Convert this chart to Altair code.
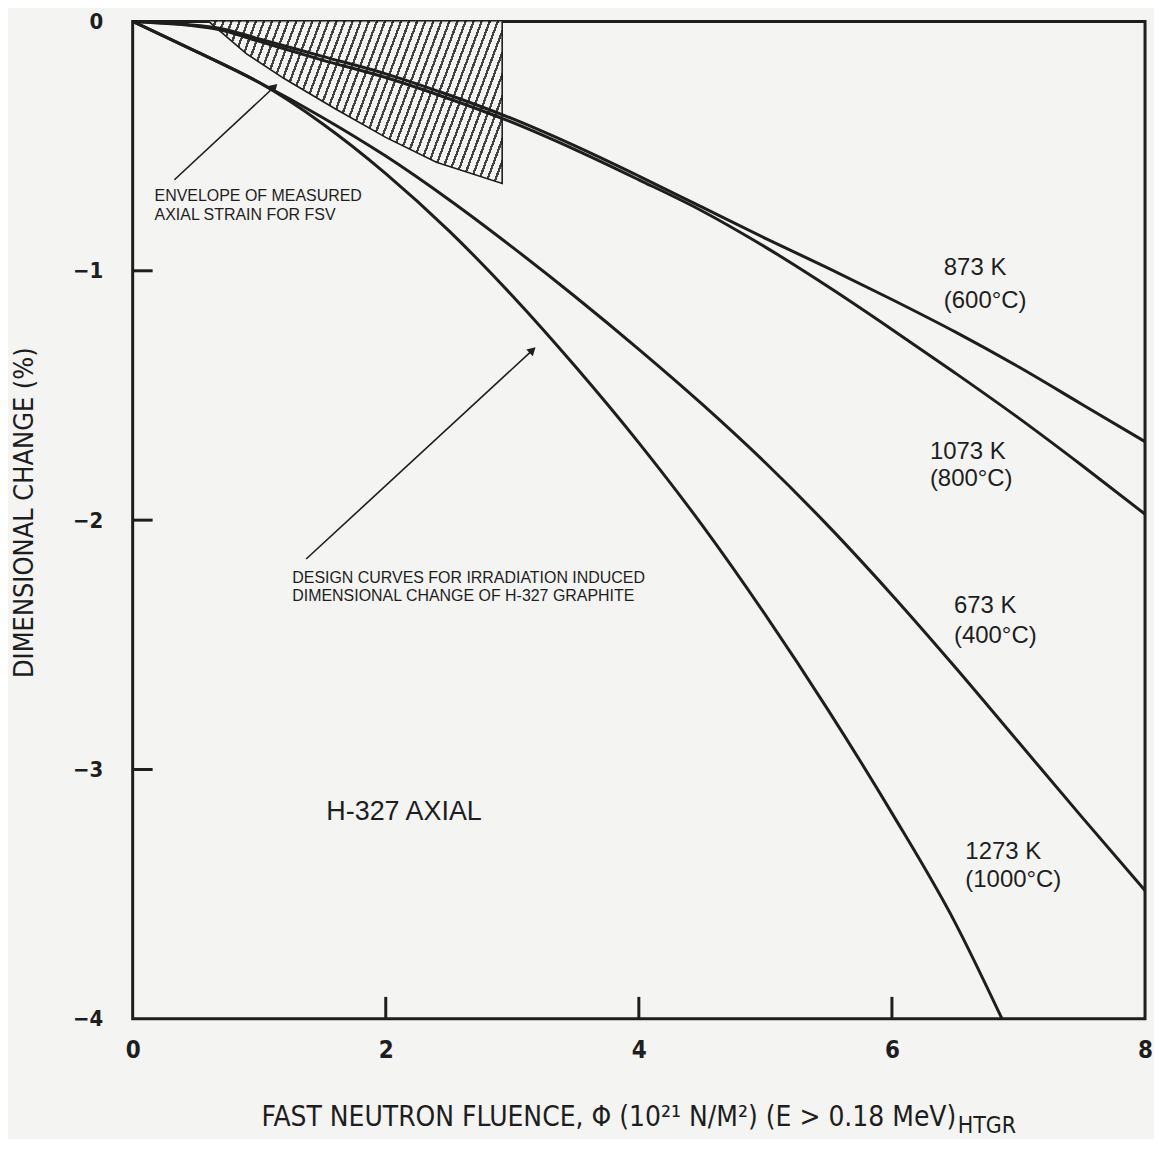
import altair as alt
import pandas as pd

# ---------------- data ----------------
x_upper = [0, 0.66, 1.0, 1.5, 2.0, 2.5, 3.0, 3.5, 4.0, 4.5, 5.0, 5.5, 6.0, 6.5, 7.0, 7.5, 8.0]
dc_873 = [0, -0.025, -0.07, -0.14, -0.21, -0.295, -0.39, -0.50, -0.62, -0.745, -0.87, -0.99, -1.115, -1.245, -1.385, -1.535, -1.685]
dc_1073 = [0, -0.03, -0.08, -0.155, -0.225, -0.31, -0.405, -0.515, -0.635, -0.76, -0.905, -1.065, -1.235, -1.41, -1.59, -1.78, -1.976]

x_673 = [0, 0.5, 1.0, 1.5, 2.0, 2.5, 3.0, 3.5, 4.0, 4.5, 5.0, 5.5, 6.0, 6.5, 7.0, 7.5, 8.0]
dc_673 = [0, -0.12, -0.245, -0.385, -0.54, -0.715, -0.905, -1.105, -1.315, -1.535, -1.77, -2.025, -2.30, -2.59, -2.89, -3.19, -3.485]

x_1273 = [0, 0.5, 1.0, 1.5, 2.0, 2.5, 3.0, 3.5, 4.0, 4.5, 5.0, 5.5, 6.0, 6.5, 6.87]
dc_1273 = [0, -0.12, -0.245, -0.41, -0.61, -0.84, -1.10, -1.385, -1.69, -2.02, -2.38, -2.765, -3.175, -3.615, -4.0]

# envelope of measured axial strain for FSV
env_x = [0.6, 0.9, 1.2, 1.6, 2.0, 2.4, 2.92]
env_low = [0, -0.13, -0.23, -0.35, -0.465, -0.565, -0.65]
env_top = [0, 0, 0, 0, 0, 0, 0]

# curve labels
lab_text = ["873 K", "(600°C)", "1073 K", "(800°C)", "673 K", "(400°C)", "1273 K", "(1000°C)"]
lab_x = [6.41, 6.41, 6.30, 6.30, 6.49, 6.49, 6.58, 6.58]
lab_y = [-0.99, -1.12, -1.725, -1.836, -2.343, -2.463, -3.329, -3.445]

# annotations
ann_text = ["ENVELOPE OF MEASURED", "AXIAL STRAIN FOR FSV",
            "DESIGN CURVES FOR IRRADIATION INDUCED", "DIMENSIONAL CHANGE OF H-327 GRAPHITE"]
ann_x = [0.173, 0.173, 1.261, 1.261]
ann_y = [-0.699, -0.778, -2.232, -2.303]

arrow_id = ["a1", "a1", "a2", "a2"]
arrow_x = [0.33, 1.12, 1.371, 3.16]
arrow_y = [-0.635, -0.262, -2.156, -1.318]
head_x = [1.12, 3.16]
head_y = [-0.262, -1.318]
head_angle = [47, 47]

y_ticks = [0, -1, -2, -3, -4]
x_ticks = [0, 2, 4, 6, 8]
inner_y_ticks = [-1, -2, -3]
inner_x_ticks = [2, 4, 6]

# ---------------- tables ----------------
rows = []
for name, xs_, ys_ in [("873 K", x_upper, dc_873), ("1073 K", x_upper, dc_1073),
                       ("673 K", x_673, dc_673), ("1273 K", x_1273, dc_1273)]:
    for i, (a, b) in enumerate(zip(xs_, ys_)):
        rows.append({"series": name, "i": i, "x": a, "y": b})
curves = pd.DataFrame(rows)

env = pd.DataFrame({"x": env_x, "low": env_low, "top": env_top})
env_edge = pd.DataFrame({"x": env_x + [env_x[-1]], "y": env_low + [0], "i": list(range(len(env_x) + 1))})
labels = pd.DataFrame({"x": lab_x, "y": lab_y, "t": lab_text})
ann = pd.DataFrame({"x": ann_x, "y": ann_y, "t": ann_text})
arrows = pd.DataFrame({"id": arrow_id, "x": arrow_x, "y": arrow_y})
heads = pd.DataFrame({"x": head_x, "y": head_y, "a": head_angle})
ytk = pd.DataFrame({"v": inner_y_ticks})
xtk = pd.DataFrame({"v": inner_x_ticks})
title_sub = pd.DataFrame({"x": [6.75], "y": [-4.428], "t": ["HTGR"]})
h327 = pd.DataFrame({"x": [1.53], "y": [-3.17], "t": ["H-327 AXIAL"]})

# ---------------- styling ----------------
BG = "#f4f4f2"
INK = "#1e1e1e"
NARROW = "'Liberation Sans Narrow', 'DejaVu Sans Condensed', sans-serif"
SANS = "'Liberation Sans', Arial, sans-serif"
W, H = 1015, 1000

xs = alt.Scale(domain=[0, 8], nice=False, zero=False)
ys = alt.Scale(domain=[-4, 0], nice=False, zero=False)

X = alt.X("x:Q", scale=xs, axis=alt.Axis(
    values=x_ticks, format="d", labelFlush=False,
    title="FAST NEUTRON FLUENCE, Φ (10²¹ N/M²) (E > 0.18 MeV)",
    titleX=477, titleY=99, titleBaseline="middle", titleAlign="center",
    titleFont=NARROW, titleFontSize=28, titleFontWeight="normal", titleColor=INK,
    labelFont=NARROW, labelFontSize=24, labelFontWeight="bold", labelColor=INK,
    labelPadding=20, ticks=False, domain=False, grid=False))
Y = alt.Y("y:Q", scale=ys, axis=alt.Axis(
    values=y_ticks, format="d", labelFlush=False, title="DIMENSIONAL CHANGE (%)",
    titleX=-108, titleY=492, titleBaseline="middle", titleAlign="center",
    titleFont=NARROW, titleFontSize=27, titleFontWeight="normal", titleColor=INK,
    labelFont=NARROW, labelFontSize=22, labelFontWeight="bold", labelColor=INK,
    labelPadding=30, ticks=False, domain=False, grid=False))

# hatch pattern built as a striped linear gradient (steep "/" hatching)
n = 44
stops = []
for k in range(n):
    a = k / n
    b = (k + 0.7) / n
    c = (k + 1) / n
    stops += [alt.GradientStop(color=BG, offset=a), alt.GradientStop(color=BG, offset=b),
              alt.GradientStop(color="#2e2e2e", offset=b), alt.GradientStop(color="#2e2e2e", offset=c)]
hatch = alt.LinearGradient(gradient="linear", stops=stops, x1=0, y1=0, x2=1.16, y2=0.238)

envelope = alt.Chart(env).mark_area(fill=hatch, opacity=0.9).encode(
    x=alt.X("x:Q", scale=xs), y=alt.Y("low:Q", scale=ys), y2="top:Q")
envelope_edge = alt.Chart(env_edge).mark_line(color=INK, strokeWidth=1.6).encode(
    x=alt.X("x:Q", scale=xs), y=alt.Y("y:Q", scale=ys), order="i:O")

lines = alt.Chart(curves).mark_line(color=INK, strokeWidth=3, interpolate="monotone").encode(
    x=X, y=Y, detail="series:N", order="i:Q")

label_layer = alt.Chart(labels).mark_text(font=SANS, fontSize=24, align="left", baseline="middle", color=INK).encode(
    x=alt.X("x:Q", scale=xs), y=alt.Y("y:Q", scale=ys), text="t:N")
ann_layer = alt.Chart(ann).mark_text(font=SANS, fontSize=16, align="left", baseline="middle", color=INK).encode(
    x=alt.X("x:Q", scale=xs), y=alt.Y("y:Q", scale=ys), text="t:N")
h327_layer = alt.Chart(h327).mark_text(font=SANS, fontSize=27, align="left", baseline="middle", color=INK).encode(
    x=alt.X("x:Q", scale=xs), y=alt.Y("y:Q", scale=ys), text="t:N")
sub_layer = alt.Chart(title_sub).mark_text(font=NARROW, fontSize=23, align="center", baseline="middle", color=INK).encode(
    x=alt.X("x:Q", scale=xs), y=alt.Y("y:Q", scale=ys), text="t:N")

arrow_lines = alt.Chart(arrows).mark_line(color=INK, strokeWidth=1.6).encode(
    x=alt.X("x:Q", scale=xs), y=alt.Y("y:Q", scale=ys), detail="id:N")
arrow_heads = alt.Chart(heads).mark_point(shape="triangle-up", filled=True, size=90, color=INK, opacity=1).encode(
    x=alt.X("x:Q", scale=xs), y=alt.Y("y:Q", scale=ys), angle=alt.Angle("a:Q", scale=None))

ytick_layer = alt.Chart(ytk).mark_rule(color=INK, strokeWidth=3).encode(
    y=alt.Y("v:Q", scale=ys), x=alt.value(0), x2=alt.value(20))
xtick_layer = alt.Chart(xtk).mark_rule(color=INK, strokeWidth=3).encode(
    x=alt.X("v:Q", scale=xs), y=alt.value(H), y2=alt.value(H - 22))

chart = alt.layer(
    envelope, envelope_edge, lines, ytick_layer, xtick_layer,
    arrow_lines, arrow_heads, label_layer, ann_layer, h327_layer, sub_layer
).properties(
    width=W, height=H,
    autosize=alt.AutoSizeParams(type="none"),
    padding={"left": 125, "top": 12, "right": 9, "bottom": 119},
    background=BG,
).configure_view(stroke=INK, strokeWidth=3)

chart.save("out.html", embed_options={"renderer": "svg", "actions": False})
